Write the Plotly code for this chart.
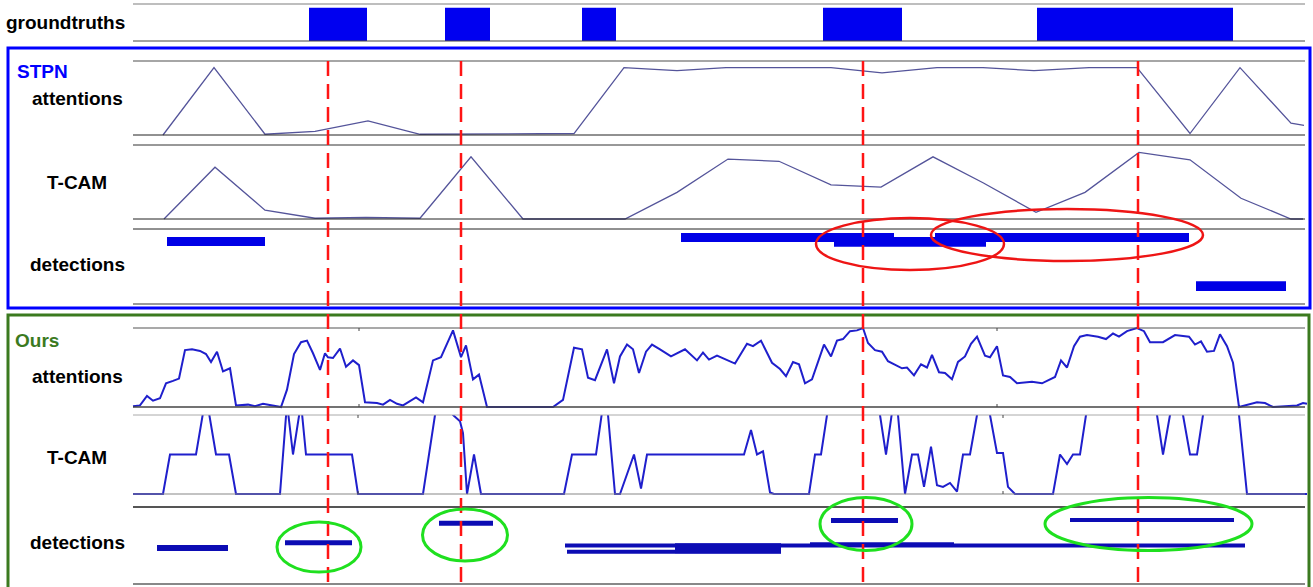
import plotly.graph_objects as go

W, H = 1313, 587

# ---------------- data (time axis = frame position) ----------------
gt_start = [309, 445, 582, 823, 1037]
gt_end = [367, 490, 616, 902, 1233]

stpn_att_t = [163, 214, 265, 315, 368, 420, 574, 624, 650, 677, 726, 831, 882, 937, 983, 1034, 1089, 1137, 1190, 1240, 1291, 1304]
stpn_att_v = [0.0, 0.91, 0.01, 0.05, 0.19, 0.01, 0.02, 0.91, 0.89, 0.87, 0.91, 0.91, 0.84, 0.91, 0.91, 0.87, 0.91, 0.91, 0.02, 0.91, 0.16, 0.13]

stpn_cam_t = [164, 215, 265, 315, 366, 420, 471, 523, 625, 677, 728, 779, 831, 881, 933, 983, 1036, 1085, 1139, 1190, 1241, 1291, 1303]
stpn_cam_v = [0.0, 0.70, 0.12, 0.01, 0.02, 0.01, 0.84, 0.0, 0.0, 0.36, 0.81, 0.78, 0.46, 0.43, 0.84, 0.49, 0.09, 0.36, 0.90, 0.80, 0.28, 0.0, 0.0]

stpn_det_start = [167, 681, 834, 935, 1196]
stpn_det_end = [265, 894, 986, 1189, 1286]
stpn_det_lane = [0.833, 0.887, 0.827, 0.887, 0.24]
stpn_det_thick = [0.12, 0.12, 0.13, 0.12, 0.13]

ours_att_t = [133, 140, 147, 153, 160, 166, 173, 179, 185, 192,
              200, 206, 211, 217, 223, 230, 236, 248, 255, 263,
              281, 287, 294, 301, 307, 313, 320, 325, 328, 333,
              340, 346, 353, 359, 365, 377, 383, 390, 397, 403,
              416, 423, 433, 441, 453, 461, 466, 473, 479, 487,
              553, 563, 574, 582, 588, 595, 607, 614, 620, 627,
              633, 639, 646, 652, 660, 671, 685, 697, 703, 709,
              717, 735, 747, 753, 761, 772, 780, 786, 793, 799,
              805, 812, 824, 831, 837, 843, 850, 857, 863, 868,
              875, 882, 888, 895, 902, 907, 914, 921, 927, 932,
              939, 945, 952, 958, 965, 971, 977, 985, 990, 997,
              1003, 1010, 1017, 1032, 1042, 1055, 1061, 1067, 1074, 1080,
              1087, 1098, 1106, 1113, 1119, 1127, 1137, 1144, 1150, 1163,
              1175, 1189, 1195, 1201, 1207, 1214, 1220, 1227, 1233, 1239,
              1247, 1257, 1265, 1273, 1297, 1303, 1307]
ours_att_v = [0.01, 0.02, 0.14, 0.08, 0.11, 0.30, 0.33, 0.36, 0.72, 0.73,
              0.71, 0.67, 0.57, 0.70, 0.45, 0.49, 0.02, 0.03, 0.01, 0.04,
              0.00, 0.22, 0.67, 0.82, 0.84, 0.68, 0.47, 0.68, 0.63, 0.62,
              0.74, 0.51, 0.59, 0.53, 0.06, 0.05, 0.03, 0.09, 0.04, 0.02,
              0.12, 0.06, 0.59, 0.63, 0.97, 0.63, 0.78, 0.35, 0.41, 0.00,
              0.00, 0.09, 0.75, 0.73, 0.37, 0.34, 0.73, 0.30, 0.64, 0.79,
              0.73, 0.43, 0.70, 0.79, 0.73, 0.64, 0.73, 0.59, 0.69, 0.60,
              0.65, 0.55, 0.80, 0.77, 0.84, 0.56, 0.48, 0.39, 0.57, 0.54,
              0.30, 0.35, 0.79, 0.64, 0.84, 0.86, 0.96, 0.97, 1.00, 0.81,
              0.72, 0.70, 0.58, 0.54, 0.49, 0.50, 0.40, 0.54, 0.50, 0.66,
              0.44, 0.43, 0.35, 0.57, 0.64, 0.80, 0.89, 0.65, 0.63, 0.77,
              0.40, 0.38, 0.30, 0.32, 0.30, 0.38, 0.59, 0.50, 0.77, 0.89,
              0.91, 0.89, 0.86, 0.93, 0.89, 0.96, 1.00, 0.96, 0.82, 0.82,
              0.91, 0.89, 0.79, 0.83, 0.70, 0.71, 0.92, 0.77, 0.56, 0.00,
              0.03, 0.06, 0.05, 0.00, 0.02, 0.05, 0.04]

ours_cam_t = [133, 163, 170, 196, 206, 216, 229, 236, 280, 287,
              293, 301, 306, 352, 358, 423, 435, 444, 453, 460,
              463, 467, 474, 481, 564, 572, 596, 602, 605, 608,
              615, 620, 634, 641, 647, 744, 751, 757, 763, 770,
              774, 809, 815, 821, 827, 853, 880, 886, 893, 895,
              898, 905, 912, 918, 924, 931, 937, 943, 950, 957,
              963, 970, 977, 983, 990, 997, 1003, 1008, 1015, 1053,
              1060, 1067, 1073, 1080, 1086, 1121, 1157, 1163, 1170, 1176,
              1183, 1190, 1197, 1203, 1221, 1239, 1247, 1307]
ours_cam_v = [0.0, 0.0, 0.5, 0.5, 1.25, 0.5, 0.5, 0.0, 0.0, 1.15,
              0.5, 1.15, 0.5, 0.5, 0.0, 0.0, 1.0, 1.4, 1.0, 0.92,
              0.77, 0.0, 0.5, 0.0, 0.0, 0.5, 0.5, 1.0, 1.3, 1.0,
              0.0, 0.0, 0.5, 0.07, 0.5, 0.5, 0.81, 0.5, 0.54, 0.02,
              0.0, 0.0, 0.5, 0.5, 1.0, 1.6, 1.0, 0.5, 1.0, 1.3,
              1.0, 0.0, 0.5, 0.5, 0.09, 0.6, 0.11, 0.09, 0.14, 0.03,
              0.5, 0.5, 1.0, 1.3, 1.0, 0.52, 0.52, 0.09, 0.0, 0.0,
              0.5, 0.38, 0.5, 0.5, 1.0, 1.6, 1.0, 0.5, 1.0, 1.3,
              1.0, 0.5, 0.5, 1.0, 1.5, 1.0, 0.0, 0.0]

ours_det_start = [157, 285, 439, 831, 1070, 565, 567, 675, 810]
ours_det_end = [228, 352, 493, 898, 1234, 1245, 781, 781, 954]
ours_det_lane = [0.468, 0.535, 0.788, 0.825, 0.83, 0.50, 0.42, 0.465, 0.513]
ours_det_thick = [0.078, 0.065, 0.065, 0.065, 0.052, 0.052, 0.052, 0.13, 0.06]

red_marks = [328, 461, 863, 1138]

# ---------------- layout helpers ----------------
def py(p):
    return 1 - p / H

def px(p):
    return p / W

X0, X1 = 133, 1305

rows = {
    # name: (top px, bottom px, pad top, pad bottom)
    "gt": (4, 41, 0, 0),
    "s_att": (61, 135, 2, 2),
    "s_cam": (145, 219, 2, 2),
    "s_det": (229, 304, 0, 0),
    "o_att": (328, 407, 2, 2),
    "o_cam": (415, 494, 0, 2),
    "o_det": (507, 584, 0, 0),
}
axis_of = {}
layout_axes = {}
for i, (name, (T, B, pt, pb)) in enumerate(rows.items()):
    key = "yaxis" if i == 0 else f"yaxis{i + 1}"
    ref = "y" if i == 0 else f"y{i + 1}"
    axis_of[name] = ref
    span = B - T
    layout_axes[key] = dict(
        domain=[py(B + pb), py(T - pt)],
        range=[-pb / span, 1 + pt / span],
        visible=False, fixedrange=True, anchor="x",
    )

fig = go.Figure()

# ground truth bars
fig.add_trace(go.Bar(
    orientation="h", y=[0.45] * len(gt_start),
    x=[e - s for s, e in zip(gt_start, gt_end)], base=gt_start,
    width=0.9, marker=dict(color="#0000f0", line=dict(width=0)),
    yaxis=axis_of["gt"], xaxis="x", hoverinfo="skip"))

# STPN curves
fig.add_trace(go.Scatter(x=stpn_att_t, y=stpn_att_v, mode="lines",
                         line=dict(color="#54549a", width=1.3),
                         yaxis=axis_of["s_att"], xaxis="x"))
fig.add_trace(go.Scatter(x=stpn_cam_t, y=stpn_cam_v, mode="lines",
                         line=dict(color="#54549a", width=1.3),
                         yaxis=axis_of["s_cam"], xaxis="x"))
fig.add_trace(go.Bar(
    orientation="h", y=stpn_det_lane,
    x=[e - s for s, e in zip(stpn_det_start, stpn_det_end)], base=stpn_det_start,
    width=stpn_det_thick, marker=dict(color="#0000e6", line=dict(width=0)),
    yaxis=axis_of["s_det"], xaxis="x", hoverinfo="skip"))

# Ours curves
fig.add_trace(go.Scatter(x=ours_att_t, y=ours_att_v, mode="lines",
                         line=dict(color="#1f1fcc", width=2),
                         yaxis=axis_of["o_att"], xaxis="x"))
fig.add_trace(go.Scatter(x=ours_cam_t, y=ours_cam_v, mode="lines",
                         line=dict(color="#1f1fcc", width=2),
                         yaxis=axis_of["o_cam"], xaxis="x"))
fig.add_trace(go.Bar(
    orientation="h", y=ours_det_lane,
    x=[e - s for s, e in zip(ours_det_start, ours_det_end)], base=ours_det_start,
    width=ours_det_thick, marker=dict(color="#0c0cb4", line=dict(width=0)),
    yaxis=axis_of["o_det"], xaxis="x", hoverinfo="skip"))

shapes = []
# row frame lines
row_lines = [
    (4, "#a8a8a8", 1.5), (41, "#444444", 1),
    (61, "#888888", 1.5), (135, "#222222", 1),
    (145, "#333333", 1), (219, "#222222", 1),
    (229, "#222222", 1), (304, "#999999", 2),
    (328, "#555555", 1.2), (407, "#444444", 1.5),
    (415, "#aaaaaa", 1), (494, "#888888", 1.2),
    (507, "#555555", 2), (584, "#888888", 2),
]
for yy, col, lw in row_lines:
    shapes.append(dict(type="line", xref="x", yref="paper", x0=X0, x1=X1,
                       y0=py(yy), y1=py(yy), line=dict(color=col, width=lw)))

# small tick marks on the Ours plots
for tx, yy, d in [(359, 328, 3), (359, 407, -3), (997, 328, 3), (997, 407, -3),
                  (358, 415, 3), (358, 494, -3), (1003, 415, 3), (1003, 494, -3)]:
    shapes.append(dict(type="line", xref="x", yref="paper", x0=tx, x1=tx,
                       y0=py(yy), y1=py(yy + d), line=dict(color="#444444", width=1)))

# group boxes
shapes.append(dict(type="rect", xref="paper", yref="paper",
                   x0=px(8), x1=px(1310), y0=py(308), y1=py(48),
                   line=dict(color="#0000ff", width=3)))
shapes.append(dict(type="rect", xref="paper", yref="paper",
                   x0=px(8), x1=px(1309), y0=py(592), y1=py(315),
                   line=dict(color="#3b7a1f", width=3)))

# red dashed reference lines
for t in red_marks:
    shapes.append(dict(type="line", xref="x", yref="paper", x0=t, x1=t,
                       y0=py(61), y1=py(587),
                       line=dict(color="#ff1414", width=2.5, dash="15px,8px")))

# highlight ellipses (cx, cy, rx, ry in pixels)
red_ellipses = [(910, 244, 94, 26), (1067, 235, 136, 26)]
green_ellipses = [(319, 547, 42, 25), (465, 535, 42.5, 26), (866, 524, 46, 26.5), (1148.5, 524, 103.5, 26.5)]
for cx, cy, rx, ry in red_ellipses:
    shapes.append(dict(type="circle", xref="x", yref="paper",
                       x0=cx - rx, x1=cx + rx, y0=py(cy + ry), y1=py(cy - ry),
                       line=dict(color="#ee1515", width=2.5)))
for cx, cy, rx, ry in green_ellipses:
    shapes.append(dict(type="circle", xref="x", yref="paper",
                       x0=cx - rx, x1=cx + rx, y0=py(cy + ry), y1=py(cy - ry),
                       line=dict(color="#1fe01f", width=3)))

FONT = "Liberation Sans, Arial, sans-serif"
annotations = []
def label(text, x, y, anchor="center", color="black"):
    annotations.append(dict(text=f"<b>{text}</b>", xref="paper", yref="paper",
                            x=px(x), y=py(y), xanchor=anchor, yanchor="middle",
                            showarrow=False, font=dict(family=FONT, size=19, color=color)))

label("groundtruths", 127, 22, anchor="right")
label("STPN", 15, 72, anchor="left", color="#0000ff")
label("attentions", 77, 98)
label("T-CAM", 77, 182)
label("detections", 77, 264)
label("Ours", 13, 340, anchor="left", color="#3b7a1f")
label("attentions", 77, 376)
label("T-CAM", 77, 457)
label("detections", 77, 542)

fig.update_layout(
    width=W, height=H, margin=dict(l=0, r=0, t=0, b=0),
    paper_bgcolor="white", plot_bgcolor="white",
    showlegend=False, barmode="overlay",
    xaxis=dict(range=[0, W], domain=[0, 1], visible=False, fixedrange=True, anchor="y"),
    shapes=shapes, annotations=annotations,
    **layout_axes,
)

fig.write_html("out.html", config={"displayModeBar": False},
               post_script="document.body.style.margin='0';document.body.style.overflow='hidden';")
